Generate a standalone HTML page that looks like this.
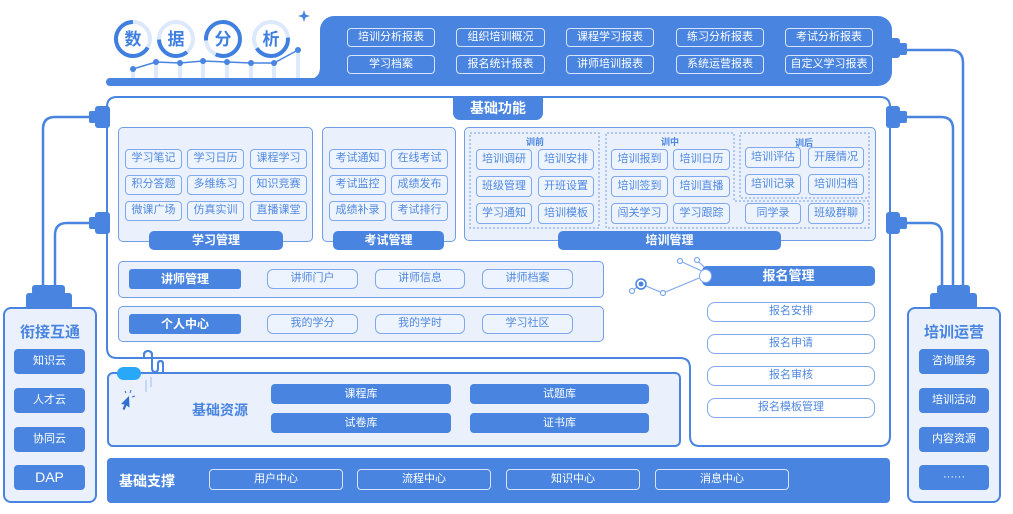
<!DOCTYPE html>
<html><head><meta charset="utf-8">
<style>
*{box-sizing:border-box;margin:0;padding:0}
body{width:1013px;height:514px;position:relative;background:#fff;font-family:"Liberation Sans","Noto Sans CJK SC",sans-serif;overflow:hidden}
.a{position:absolute}
.box{position:absolute;background:#eaf1fc;border:1.5px solid #6f9de8;border-radius:5px}
.b{position:absolute;border:1.5px solid #7fa8ee;border-radius:4px;background:#eef4fd;color:#5088e2;font-size:11px;text-align:center;height:20px;line-height:17px;white-space:nowrap}
.s{position:absolute;background:#4884e0;color:#fff;border-radius:4px;font-size:11px;text-align:center;white-space:nowrap}
.tab{position:absolute;background:#4884e0;color:#fff;font-weight:bold;font-size:12px;text-align:center;border-radius:5px;height:19px;line-height:19px}
.w{position:absolute;border:1.5px solid rgba(255,255,255,.78);border-radius:4px;color:#fff;font-size:11px;text-align:center;white-space:nowrap}
.r{position:absolute;border:1.5px solid #7fa8ee;border-radius:8px;background:#fff;color:#5088e2;font-size:11px;text-align:center;height:20px;line-height:17px;width:168px;left:707px}
.lbl{position:absolute;font-size:9px;font-weight:bold;color:#4884e0;text-align:center;width:40px}
.pt{position:absolute;font-weight:bold;font-size:15px;color:#4884e0;text-align:center;width:94px}
.pb{position:absolute;background:#4884e0;color:#fff;border-radius:4px;font-size:11px;text-align:center;height:25px;line-height:25px}
</style></head><body>
<svg class="a" style="left:0;top:0" width="1013" height="514" xmlns="http://www.w3.org/2000/svg">
 <!-- main frame -->
 <path d="M117 97 H880 Q890 97 890 107 V436 Q890 446 880 446 H700 Q690 446 690 436 V368 Q690 358 680 358 H117 Q107 358 107 348 V107 Q107 97 117 97 Z" fill="#fff" stroke="#4884e0" stroke-width="2"/>
 <!-- top block -->
 <rect x="320" y="16" width="572" height="70" rx="14" fill="#4884e0"/>
 <rect x="106" y="78" width="230" height="8" rx="4" fill="#4884e0"/>
 <rect x="320" y="66" width="20" height="20" fill="#4884e0"/>
 <path d="M308 79 Q320 79 320 67 V79 Z" fill="#4884e0"/>
 <!-- chart bars -->
 <g fill="#dde9fc">
  <rect x="131" y="69" width="4" height="9"/><rect x="154" y="62" width="4" height="16"/>
  <rect x="178" y="63" width="4" height="15"/><rect x="201" y="61" width="4" height="17"/>
  <rect x="225" y="62" width="4" height="16"/><rect x="249" y="63" width="4" height="15"/>
  <rect x="272" y="63" width="4" height="15"/><rect x="296" y="50" width="4" height="28"/>
 </g>
 <polyline points="133,69 156,62 180,63 203,61 227,62 251,63 274,63 298,50" fill="none" stroke="#4884e0" stroke-width="1.5"/>
 <g fill="#4884e0">
  <circle cx="133" cy="69" r="3"/><circle cx="156" cy="62" r="3"/><circle cx="180" cy="63" r="3"/>
  <circle cx="203" cy="61" r="3"/><circle cx="227" cy="62" r="3"/><circle cx="251" cy="63" r="3"/>
  <circle cx="274" cy="63" r="3"/><circle cx="298" cy="50" r="3"/>
  <path d="M304 10 L305.5 14.5 L310 16 L305.5 17.5 L304 22 L302.5 17.5 L298 16 L302.5 14.5 Z"/>
 </g>
 <!-- circles -->
 <g fill="none" stroke-width="4">
  <circle cx="133" cy="39" r="17" stroke="#dce8fc"/>
  <circle cx="133" cy="39" r="17" stroke="#3f7fe0" stroke-dasharray="71 36" transform="rotate(30 133 39)"/>
  <circle cx="176" cy="39" r="17" stroke="#dce8fc"/>
  <circle cx="176" cy="39" r="17" stroke="#3f7fe0" stroke-dasharray="38 69" transform="rotate(50 176 39)"/>
  <circle cx="223" cy="39" r="17" stroke="#dce8fc"/>
  <circle cx="223" cy="39" r="17" stroke="#3f7fe0" stroke-dasharray="89 18" transform="rotate(175 223 39)"/>
  <circle cx="271" cy="39" r="17" stroke="#dce8fc"/>
  <circle cx="271" cy="39" r="17" stroke="#3f7fe0" stroke-dasharray="45 62" transform="rotate(-5 271 39)"/>
 </g>
 <g font-family="Liberation Sans, Noto Sans CJK SC, sans-serif" font-size="17" font-weight="bold" fill="#3f7fe0" text-anchor="middle">
  <text x="133" y="45">数</text><text x="176" y="45">据</text><text x="223" y="45">分</text><text x="271" y="45">析</text>
 </g>
 <!-- connectors -->
 <g fill="none" stroke="#4884e0" stroke-width="2.5">
  <path d="M43 286 V129 Q43 117 55 117 H90"/>
  <path d="M55 286 V235 Q55 223 67 223 H90"/>
  <path d="M942 286 V235 Q942 223 930 223 H906"/>
  <path d="M953 286 V129 Q953 117 941 117 H906"/>
  <path d="M963 286 V63 Q963 50 950 50 H906"/>
 </g>
 <g fill="#4884e0">
  <rect x="95" y="106" width="15" height="22" rx="3"/><rect x="89" y="111" width="9" height="12" rx="2"/>
  <rect x="95" y="212" width="15" height="22" rx="3"/><rect x="89" y="217" width="9" height="12" rx="2"/>
  <rect x="886" y="106" width="14" height="22" rx="3"/><rect x="898" y="111" width="9" height="12" rx="2"/>
  <rect x="886" y="212" width="14" height="22" rx="3"/><rect x="898" y="217" width="9" height="12" rx="2"/>
  <rect x="889" y="38" width="11" height="20" rx="3"/><rect x="898" y="43" width="9" height="12" rx="2"/>
  <rect x="26" y="293" width="46" height="16" rx="3"/><rect x="32" y="285" width="33" height="10" rx="3"/>
  <rect x="930" y="293" width="47" height="16" rx="3"/><rect x="937" y="285" width="33" height="10" rx="3"/>
 </g>
 <!-- squiggle -->
 <path d="M144 358 V355 Q144 351 148 351 Q152 351 152 355 V368 Q152 372 155 372 Q158 372 158 368 V364 Q158 361 160.5 361 Q163 361 163 364 V372" fill="none" stroke="#4884e0" stroke-width="2"/>
 <!-- network deco -->
 <g stroke="#7fa8ee" stroke-width="1.2" fill="none">
  <polyline points="632,291 641,284 663,293 704,276"/>
  <line x1="680" y1="261" x2="704" y2="272"/>
  <line x1="697" y1="260" x2="706" y2="269"/>
 </g>
 <circle cx="641" cy="284" r="5" fill="#fff" stroke="#4884e0" stroke-width="1.5"/>
 <circle cx="641" cy="284" r="2.5" fill="#4884e0"/>
 <g fill="#fff" stroke="#7fa8ee" stroke-width="1.2">
  <circle cx="632" cy="291" r="2.5"/><circle cx="663" cy="293" r="2.5"/>
  <circle cx="680" cy="261" r="2.5"/><circle cx="697" cy="260" r="2.5"/>
 </g>
</svg>

<!-- top reports -->
<div class="w" style="left:347px;top:28px;width:88px;height:19px;line-height:16px">培训分析报表</div>
<div class="w" style="left:456px;top:28px;width:89px;height:19px;line-height:16px">组织培训概况</div>
<div class="w" style="left:566px;top:28px;width:88px;height:19px;line-height:16px">课程学习报表</div>
<div class="w" style="left:676px;top:28px;width:88px;height:19px;line-height:16px">练习分析报表</div>
<div class="w" style="left:785px;top:28px;width:88px;height:19px;line-height:16px">考试分析报表</div>
<div class="w" style="left:347px;top:55px;width:88px;height:19px;line-height:16px">学习档案</div>
<div class="w" style="left:456px;top:55px;width:89px;height:19px;line-height:16px">报名统计报表</div>
<div class="w" style="left:566px;top:55px;width:88px;height:19px;line-height:16px">讲师培训报表</div>
<div class="w" style="left:676px;top:55px;width:88px;height:19px;line-height:16px">系统运营报表</div>
<div class="w" style="left:785px;top:55px;width:88px;height:19px;line-height:16px">自定义学习报表</div>

<!-- 基础功能 tab -->
<div class="a" style="left:453px;top:97px;width:90px;height:23px;background:#4884e0;border-radius:0 0 7px 7px;color:#fff;font-weight:bold;font-size:14px;text-align:center;line-height:23px">基础功能</div>

<!-- 学习管理 -->
<div class="box" style="left:118px;top:127px;width:195px;height:115px"></div>
<div class="b" style="left:125px;top:149px;width:57px">学习笔记</div>
<div class="b" style="left:187px;top:149px;width:57px">学习日历</div>
<div class="b" style="left:250px;top:149px;width:57px">课程学习</div>
<div class="b" style="left:125px;top:175px;width:57px">积分答题</div>
<div class="b" style="left:187px;top:175px;width:57px">多维练习</div>
<div class="b" style="left:250px;top:175px;width:57px">知识竞赛</div>
<div class="b" style="left:125px;top:201px;width:57px">微课广场</div>
<div class="b" style="left:187px;top:201px;width:57px">仿真实训</div>
<div class="b" style="left:250px;top:201px;width:57px">直播课堂</div>
<div class="tab" style="left:149px;top:231px;width:134px">学习管理</div>

<!-- 考试管理 -->
<div class="box" style="left:322px;top:127px;width:134px;height:115px"></div>
<div class="b" style="left:329px;top:149px;width:57px">考试通知</div>
<div class="b" style="left:391px;top:149px;width:57px">在线考试</div>
<div class="b" style="left:329px;top:175px;width:57px">考试监控</div>
<div class="b" style="left:391px;top:175px;width:57px">成绩发布</div>
<div class="b" style="left:329px;top:201px;width:57px">成绩补录</div>
<div class="b" style="left:391px;top:201px;width:57px">考试排行</div>
<div class="tab" style="left:333px;top:231px;width:111px">考试管理</div>

<!-- 培训管理 -->
<div class="box" style="left:464px;top:127px;width:412px;height:114px"></div>
<svg class="a" style="left:0;top:0" width="1013" height="514">
 <g fill="none" stroke="#6f9de8" stroke-width="1" stroke-dasharray="2 2">
  <rect x="470" y="133" width="129" height="95"/>
  <path d="M606 228 V133 H734 V201 H869 V228 Z"/>
  <rect x="740" y="133" width="129" height="65"/>
 </g>
</svg>
<div class="lbl" style="left:515px;top:135px">训前</div>
<div class="lbl" style="left:650px;top:135px">训中</div>
<div class="lbl" style="left:784px;top:136px">训后</div>
<div class="b" style="left:476px;top:149px;width:56px;height:21px;line-height:18px">培训调研</div>
<div class="b" style="left:538px;top:149px;width:56px;height:21px;line-height:18px">培训安排</div>
<div class="b" style="left:476px;top:176px;width:56px;height:21px;line-height:18px">班级管理</div>
<div class="b" style="left:538px;top:176px;width:56px;height:21px;line-height:18px">开班设置</div>
<div class="b" style="left:476px;top:203px;width:56px;height:21px;line-height:18px">学习通知</div>
<div class="b" style="left:538px;top:203px;width:56px;height:21px;line-height:18px">培训模板</div>
<div class="b" style="left:611px;top:149px;width:57px;height:21px;line-height:18px">培训报到</div>
<div class="b" style="left:673px;top:149px;width:57px;height:21px;line-height:18px">培训日历</div>
<div class="b" style="left:611px;top:176px;width:57px;height:21px;line-height:18px">培训签到</div>
<div class="b" style="left:673px;top:176px;width:57px;height:21px;line-height:18px">培训直播</div>
<div class="b" style="left:611px;top:203px;width:57px;height:21px;line-height:18px">闯关学习</div>
<div class="b" style="left:673px;top:203px;width:57px;height:21px;line-height:18px">学习跟踪</div>
<div class="b" style="left:745px;top:147px;width:56px;height:21px;line-height:18px">培训评估</div>
<div class="b" style="left:808px;top:147px;width:56px;height:21px;line-height:18px">开展情况</div>
<div class="b" style="left:745px;top:174px;width:56px;height:21px;line-height:18px">培训记录</div>
<div class="b" style="left:808px;top:174px;width:56px;height:21px;line-height:18px">培训归档</div>
<div class="b" style="left:745px;top:203px;width:56px;height:21px;line-height:18px">同学录</div>
<div class="b" style="left:808px;top:203px;width:56px;height:21px;line-height:18px">班级群聊</div>
<div class="tab" style="left:558px;top:231px;width:223px">培训管理</div>

<!-- 讲师管理 / 个人中心 -->
<div class="box" style="left:118px;top:261px;width:486px;height:37px"></div>
<div class="tab" style="left:129px;top:269px;width:112px;height:20px;line-height:20px;border-radius:3px">讲师管理</div>
<div class="b" style="left:267px;top:269px;width:91px;border-radius:6px">讲师门户</div>
<div class="b" style="left:375px;top:269px;width:90px;border-radius:6px">讲师信息</div>
<div class="b" style="left:482px;top:269px;width:91px;border-radius:6px">讲师档案</div>
<div class="box" style="left:118px;top:306px;width:486px;height:36px"></div>
<div class="tab" style="left:129px;top:314px;width:112px;height:20px;line-height:20px;border-radius:3px">个人中心</div>
<div class="b" style="left:267px;top:314px;width:91px;border-radius:6px">我的学分</div>
<div class="b" style="left:375px;top:314px;width:90px;border-radius:6px">我的学时</div>
<div class="b" style="left:482px;top:314px;width:91px;border-radius:6px">学习社区</div>

<!-- 报名管理 -->
<div class="tab" style="left:702px;top:266px;width:173px;height:20px;line-height:20px;font-size:13px">报名管理</div>
<div class="a" style="left:699px;top:269px;width:13px;height:14px;border-radius:50%;background:#fff;border:1.5px solid #7fa8ee"></div>
<div class="r" style="top:302px">报名安排</div>
<div class="r" style="top:334px">报名申请</div>
<div class="r" style="top:366px">报名审核</div>
<div class="r" style="top:398px">报名模板管理</div>

<!-- 基础资源 -->
<div class="a" style="left:107px;top:372px;width:574px;height:75px;background:#eaf1fc;border:2px solid #4884e0;border-radius:6px"></div>
<svg class="a" style="left:0;top:0" width="1013" height="514">
 <path d="M144 358 V355 Q144 351 148 351 Q152 351 152 355 V368 Q152 372 155 372 Q158 372 158 368 V364 Q158 361 160.5 361 Q163 361 163 364 V373" fill="none" stroke="#4884e0" stroke-width="2"/>
 <rect x="117" y="367" width="24" height="13" rx="6.5" fill="#2aa8f8"/>
 <g stroke="#9dbdf2" stroke-width="1"><line x1="146" y1="380" x2="146" y2="392"/><line x1="151" y1="377" x2="151" y2="387"/></g>
 <path d="M129 396 L121 404 L124.5 404.5 L122.5 409 L124.5 410 L126.5 405.5 L129.5 407.5 Z" fill="#2f6fd0"/>
 <g stroke="#2f6fd0" stroke-width="1"><line x1="130" y1="393" x2="131" y2="390"/><line x1="132" y1="397" x2="135" y2="396"/><line x1="126" y1="393" x2="125" y2="391"/></g>
</svg>
<div class="a" style="left:192px;top:400px;font-weight:bold;font-size:14px;color:#4884e0">基础资源</div>
<div class="s" style="left:271px;top:384px;width:180px;height:20px;line-height:20px">课程库</div>
<div class="s" style="left:470px;top:384px;width:179px;height:20px;line-height:20px">试题库</div>
<div class="s" style="left:271px;top:413px;width:180px;height:20px;line-height:20px">试卷库</div>
<div class="s" style="left:470px;top:413px;width:179px;height:20px;line-height:20px">证书库</div>

<!-- 基础支撑 -->
<div class="a" style="left:107px;top:458px;width:783px;height:45px;background:#4884e0;border-radius:4px"></div>
<div class="a" style="left:119px;top:471px;font-weight:bold;font-size:14px;color:#fff">基础支撑</div>
<div class="w" style="left:209px;top:469px;width:134px;height:21px;line-height:18px">用户中心</div>
<div class="w" style="left:357px;top:469px;width:134px;height:21px;line-height:18px">流程中心</div>
<div class="w" style="left:506px;top:469px;width:134px;height:21px;line-height:18px">知识中心</div>
<div class="w" style="left:655px;top:469px;width:134px;height:21px;line-height:18px">消息中心</div>

<!-- left panel -->
<div class="a" style="left:3px;top:307px;width:94px;height:196px;background:#eaf1fc;border:2px solid #4884e0;border-radius:8px"></div>
<div class="pt" style="left:3px;top:321px">衔接互通</div>
<div class="pb" style="left:14px;top:349px;width:71px">知识云</div>
<div class="pb" style="left:14px;top:388px;width:71px">人才云</div>
<div class="pb" style="left:14px;top:427px;width:71px">协同云</div>
<div class="pb" style="left:14px;top:465px;width:71px;font-size:14px">DAP</div>

<!-- right panel -->
<div class="a" style="left:907px;top:307px;width:94px;height:196px;background:#eaf1fc;border:2px solid #4884e0;border-radius:8px"></div>
<div class="pt" style="left:907px;top:321px">培训运营</div>
<div class="pb" style="left:919px;top:349px;width:70px">咨询服务</div>
<div class="pb" style="left:919px;top:388px;width:70px">培训活动</div>
<div class="pb" style="left:919px;top:427px;width:70px">内容资源</div>
<div class="pb" style="left:919px;top:465px;width:70px">······</div>
</body></html>
